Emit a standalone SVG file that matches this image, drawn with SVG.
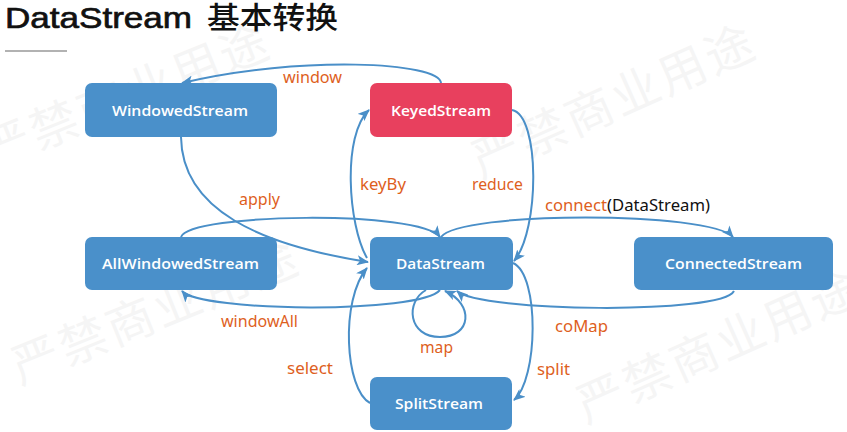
<svg xmlns="http://www.w3.org/2000/svg" width="847" height="432" viewBox="0 0 847 432">
<defs>
<style>
.node rect{fill:#4a90ca}
.node.red rect{fill:#e8405e}
.node text{fill:#fff;font-family:"Open Sans","Noto Sans",sans-serif;font-weight:600;font-size:15px;text-anchor:middle}
.edge{fill:none;stroke:#4a8fc8;stroke-width:2}
.lbl{fill:#de5f1e;font-family:"Noto Sans","Liberation Sans",sans-serif;font-size:16px}
.wm{fill:#000;opacity:0.035;font-family:"Noto Sans CJK SC",sans-serif;font-size:48px}
.ttl{fill:#111;font-size:30px}
</style>
<marker id="arr" viewBox="0 0 12 10" refX="11" refY="5" markerWidth="12" markerHeight="10" markerUnits="userSpaceOnUse" orient="auto">
<path d="M0,0 L12,5 L0,10 L3,5 Z" fill="#4a8fc8"/>
</marker>
</defs>
<rect width="847" height="432" fill="#fff"/>
<g id="watermark">
<text class="wm" transform="translate(-9,169) rotate(-22)" letter-spacing="3">严禁商业用途</text>
<text class="wm" transform="translate(481,179) rotate(-24)" letter-spacing="3">严禁商业用途</text>
<text class="wm" transform="translate(20,385) rotate(-22)" letter-spacing="3">严禁商业用途</text>
<text class="wm" transform="translate(586,424) rotate(-24)" letter-spacing="3">严禁商业用途</text>
</g>
<g id="title">
<text class="ttl" x="5" y="28" font-family="Liberation Sans, Arial, sans-serif" stroke="#111" stroke-width="0.7" textLength="187" lengthAdjust="spacingAndGlyphs">DataStream</text>
<text class="ttl" x="207" y="28" font-family="Noto Sans CJK SC, sans-serif" font-weight="500" textLength="131" lengthAdjust="spacingAndGlyphs">基本转换</text>
<line x1="5" y1="51" x2="67" y2="51" stroke="#999" stroke-width="1.5"/>
</g>
<g id="connectors">
<path class="edge" marker-end="url(#arr)" d="M441,83 C440,62 300,55 182,83"/>
<path class="edge" marker-end="url(#arr)" d="M181,137 C182,210 260,245 368,262"/>
<path class="edge" marker-end="url(#arr)" d="M367,258 C348,225 342,135 369,110"/>
<path class="edge" marker-end="url(#arr)" d="M512,110 C540,115 540,230 514,261"/>
<path class="edge" marker-end="url(#arr)" d="M181,237 C190,213 420,210 440,237"/>
<path class="edge" marker-end="url(#arr)" d="M441,237 C460,211 710,211 733,237"/>
<path class="edge" marker-end="url(#arr)" d="M440,290 C420,314 200,312 182,291"/>
<path class="edge" marker-end="url(#arr)" d="M734,291 C722,315 480,312 457,291"/>
<path class="edge" marker-end="url(#arr)" d="M426,290 C405,302 408,337 440,337 C472,337 474,304 445,291"/>
<path class="edge" marker-end="url(#arr)" d="M513,263 C540,275 538,380 514,400"/>
<path class="edge" marker-end="url(#arr)" d="M370,403 C345,390 340,300 367,268"/>
</g>
<g id="labels">
<text class="lbl" x="283" y="83" textLength="59" lengthAdjust="spacingAndGlyphs">window</text>
<text class="lbl" x="239" y="205" textLength="41" lengthAdjust="spacingAndGlyphs">apply</text>
<text class="lbl" x="360" y="190" textLength="46" lengthAdjust="spacingAndGlyphs">keyBy</text>
<text class="lbl" x="472" y="190" textLength="51" lengthAdjust="spacingAndGlyphs">reduce</text>
<text class="lbl" x="545" y="211" textLength="62" lengthAdjust="spacingAndGlyphs">connect</text>
<text class="lbl" x="607" y="211" textLength="103" lengthAdjust="spacingAndGlyphs" style="fill:#111">(DataStream)</text>
<text class="lbl" x="221" y="327" textLength="77" lengthAdjust="spacingAndGlyphs">windowAll</text>
<text class="lbl" x="420" y="353" textLength="33" lengthAdjust="spacingAndGlyphs">map</text>
<text class="lbl" x="287" y="374" textLength="46" lengthAdjust="spacingAndGlyphs">select</text>
<text class="lbl" x="555" y="332" textLength="53" lengthAdjust="spacingAndGlyphs">coMap</text>
<text class="lbl" x="537" y="375" textLength="33" lengthAdjust="spacingAndGlyphs">split</text>
</g>
<g id="node-windowed" class="node">
<rect x="85" y="83" width="192" height="54" rx="7"/>
<text x="180" y="115.5" textLength="136" lengthAdjust="spacingAndGlyphs">WindowedStream</text>
</g>
<g id="node-keyed" class="node red">
<rect x="370" y="83" width="142" height="54" rx="7"/>
<text x="441" y="115.5" textLength="100" lengthAdjust="spacingAndGlyphs">KeyedStream</text>
</g>
<g id="node-allwindowed" class="node">
<rect x="85" y="237" width="192" height="53" rx="7"/>
<text x="180.5" y="269" textLength="157" lengthAdjust="spacingAndGlyphs">AllWindowedStream</text>
</g>
<g id="node-datastream" class="node">
<rect x="370" y="237" width="143" height="53" rx="7"/>
<text x="440.5" y="269" textLength="89" lengthAdjust="spacingAndGlyphs">DataStream</text>
</g>
<g id="node-connected" class="node">
<rect x="634" y="237" width="199" height="53" rx="7"/>
<text x="733.5" y="269" textLength="137" lengthAdjust="spacingAndGlyphs">ConnectedStream</text>
</g>
<g id="node-split" class="node">
<rect x="370" y="377" width="142" height="53" rx="7"/>
<text x="439" y="409" textLength="88" lengthAdjust="spacingAndGlyphs">SplitStream</text>
</g>
</svg>
